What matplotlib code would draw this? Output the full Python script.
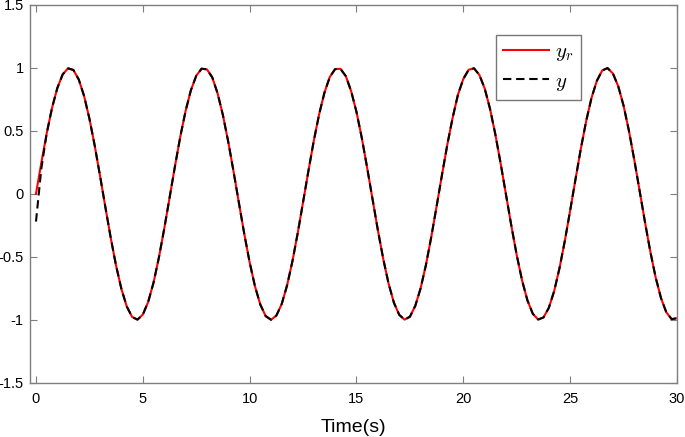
import matplotlib
matplotlib.use("Agg")
import matplotlib.pyplot as plt

# time samples (s) at 0.25 s steps
t = [i * 0.25 for i in range(121)]

# reference y_r
y_r = [
    0.000, 0.247, 0.479, 0.682, 0.841, 0.949, 0.997, 0.984, 0.909, 0.778,
    0.598, 0.382, 0.141, -0.108, -0.351, -0.572, -0.757, -0.895, -0.978, -0.999,
    -0.959, -0.859, -0.706, -0.508, -0.279, -0.033, 0.215, 0.451, 0.657, 0.823,
    0.938, 0.994, 0.989, 0.925, 0.798, 0.624, 0.412, 0.174, -0.075, -0.320,
    -0.544, -0.735, -0.880, -0.971, -1.000, -0.967, -0.875, -0.728, -0.537, -0.311,
    -0.066, 0.182, 0.420, 0.631, 0.804, 0.928, 0.991, 0.993, 0.935, 0.816,
    0.650, 0.443, 0.206, -0.041, -0.288, -0.515, -0.712, -0.864, -0.961, -0.999,
    -0.976, -0.890, -0.751, -0.565, -0.342, -0.099, 0.150, 0.390, 0.605, 0.789,
    0.913, 0.986, 0.997, 0.945, 0.837, 0.675, 0.471, 0.238, -0.009, -0.256,
    -0.487, -0.688, -0.846, -0.952, -0.998, -0.982, -0.906, -0.773, -0.591, -0.374,
    -0.132, 0.116, 0.359, 0.579, 0.763, 0.898, 0.980, 0.999, 0.956, 0.855,
    0.700, 0.501, 0.271, 0.025, -0.223, -0.458, -0.663, -0.827, -0.941, -0.995,
    -0.988,
]

# output y: same as reference after the short start transient
y_start = [-0.22, 0.20]
y = y_start + y_r[len(y_start):]

xticks = [0, 5, 10, 15, 20, 25, 30]
yticks = [-1.5, -1, -0.5, 0, 0.5, 1, 1.5]
ytick_labels = ["-1.5", "-1", "-0.5", "0", "0.5", "1", "1.5"]

plt.rcParams["font.family"] = ["Liberation Sans", "DejaVu Sans"]
plt.rcParams["mathtext.fontset"] = "cm"

fig = plt.figure(figsize=(6.85, 4.37), dpi=100)
ax = fig.add_axes([30 / 685, 1 - 382.7 / 437, 647 / 685, 377.7 / 437])

ax.plot(t, y_r, color="#ff0000", lw=1.5, label="$y_r$", solid_joinstyle="round")
ax.plot(t, y, color="black", lw=1.5, ls=(0, (4, 2.3)), label="$y$",
        dash_joinstyle="round")

ax.set_xlim(-0.28, 30)
ax.set_ylim(-1.5, 1.5)
ax.set_xticks(xticks)
ax.set_yticks(yticks)
ax.set_yticklabels(ytick_labels)
ax.tick_params(direction="in", top=True, right=True, length=5, width=0.8,
               color="#7f7f7f", labelsize=10.5, labelcolor="black")
ax.tick_params(axis="x", pad=7)
ax.tick_params(axis="y", pad=4.5)
for s in ax.spines.values():
    s.set_color("#7f7f7f")
    s.set_linewidth(1.0)

ax.set_xlabel("Time(s)", fontsize=14, labelpad=9)

leg = ax.legend(loc="upper left", bbox_to_anchor=(466 / 647, 1 - 30 / 377.7),
                borderaxespad=0, fancybox=False, fontsize=15, handlelength=2.2,
                borderpad=0.35, labelspacing=0.4, handletextpad=0.3)
leg.get_frame().set_edgecolor("#555555")
leg.get_frame().set_linewidth(1.0)

fig.savefig("out.png", dpi=100)
